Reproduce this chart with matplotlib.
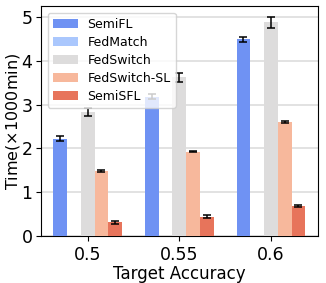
import numpy as np
import matplotlib.pyplot as plt
import seaborn as sns

accuracies = ["0.5", "0.55", "0.6"]
methods = ["SemiFL", "FedMatch", "FedSwitch", "FedSwitch-SL", "SemiSFL"]

semifl = [2.22, 3.18, 4.48]
fedmatch = [0.0, 0.0, 0.0]
fedswitch = [2.83, 3.62, 4.87]
fedswitch_sl = [1.48, 1.93, 2.60]
semisfl = [0.32, 0.45, 0.69]

semifl_err = [0.06, 0.06, 0.05]
fedmatch_err = [0.0, 0.0, 0.0]
fedswitch_err = [0.10, 0.10, 0.13]
fedswitch_sl_err = [0.02, 0.02, 0.02]
semisfl_err = [0.03, 0.03, 0.03]

values = [semifl, fedmatch, fedswitch, fedswitch_sl, semisfl]
errors = [semifl_err, fedmatch_err, fedswitch_err, fedswitch_sl_err, semisfl_err]

colors = sns.color_palette("coolwarm", 5)

fig, ax = plt.subplots(figsize=(3.26, 2.83), dpi=100)

x = np.arange(len(accuracies))
width = 0.15
for i, name in enumerate(methods):
    ax.bar(x + (i - 2) * width, values[i], width, yerr=errors[i] if any(errors[i]) else None,
           color=colors[i], label=name, capsize=3,
           error_kw=dict(ecolor="black", elinewidth=1.1, capthick=1.1), zorder=3)

ax.set_xticks(x)
ax.set_xticklabels(accuracies, fontsize=12.5)
ax.tick_params(axis="y", labelsize=12.5, pad=2.5)
ax.set_yticks([0, 1, 2, 3, 4, 5])
ax.set_xlabel("Target Accuracy", fontsize=12, labelpad=1)
ax.set_ylabel("Time($\\times$1000min)", fontsize=11.5)
ax.yaxis.set_label_coords(-0.069, 0.5)
ax.yaxis.grid(True, color="#dddddd", linewidth=1.2, zorder=0)
ax.set_axisbelow(True)
ax.legend(loc="upper left", fontsize=9, handlelength=2.0, handletextpad=0.8,
          borderaxespad=0.55, labelspacing=0.4)

fig.subplots_adjust(left=0.125, right=0.975, top=0.98, bottom=0.165)
fig.savefig("out.png")
